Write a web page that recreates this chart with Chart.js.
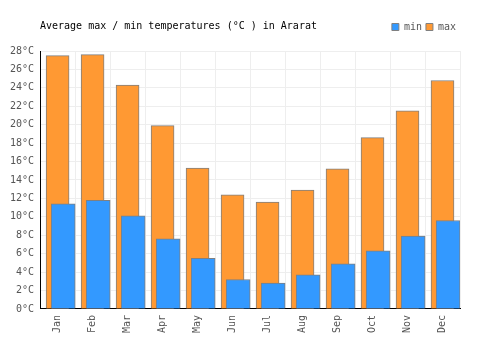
<!DOCTYPE html>
<html>
<head>
<meta charset="utf-8">
<script src="https://cdn.jsdelivr.net/npm/chart.js@4"></script>
<style>
  body { margin: 0; background: #fff; }
  #wrap { position: relative; width: 500px; height: 350px; }
  #title {
    position: absolute; left: 40px; top: 20px;
    font: 10px "DejaVu Sans Mono", monospace; color: #000; line-height: 12px;
  }
</style>
</head>
<body>
<div id="wrap">
  <div id="title">Average max / min temperatures (°C ) in Ararat</div>
  <canvas id="tempChart" width="500" height="350"></canvas>
</div>
<script>
const months = ['Jan', 'Feb', 'Mar', 'Apr', 'May', 'Jun', 'Jul', 'Aug', 'Sep', 'Oct', 'Nov', 'Dec'];
const minTemps = [11.4, 11.8, 10.1, 7.6, 5.5, 3.2, 2.8, 3.7, 4.9, 6.3, 7.9, 9.6];
const maxTemps = [27.5, 27.6, 24.3, 19.9, 15.3, 12.4, 11.6, 12.9, 15.2, 18.6, 21.5, 24.8];
const yMin = 0;
const yMax = 28;
const yStep = 2;

const monoFont = { family: '"DejaVu Sans Mono", monospace', size: 10 };

// leave some room between the legend row and the plot
const legendGap = {
    id: 'legendGap',
    beforeInit(chart) {
        const fit = chart.legend.fit;
        chart.legend.fit = function () {
            fit.bind(chart.legend)();
            this.height += 9;
        };
    }
};

document.addEventListener("DOMContentLoaded", function () {
    const ctx = document.getElementById('tempChart').getContext('2d');

    new Chart(ctx, {
        type: 'bar',
        data: {
            labels: months,
            datasets: [{
                label: 'min',
                // min bars sit on a hidden linear axis shifted a bit to the right
                data: minTemps.map((v, i) => ({ x: i, y: v })),
                xAxisID: 'x2',
                backgroundColor: '#3399ff',
                borderColor: '#808080',
                borderWidth: 1,
                barThickness: 24,
                grouped: false
            }, {
                label: 'max',
                data: maxTemps,
                xAxisID: 'x',
                backgroundColor: '#ff9933',
                borderColor: '#808080',
                borderWidth: 1,
                barThickness: 23,
                grouped: false
            }]
        },
        plugins: [legendGap],
        options: {
            responsive: false,
            animation: false,
            layout: { padding: { left: 4, right: 40, top: 18, bottom: 11 } },
            plugins: {
                tooltip: { enabled: false },
                title: { display: false },
                legend: {
                    position: 'top',
                    align: 'end',
                    labels: {
                        boxWidth: 7,
                        boxHeight: 7,
                        padding: 4,
                        color: '#555',
                        font: monoFont
                    }
                }
            },
            scales: {
                x: {
                    type: 'category',
                    offset: true,
                    grid: { color: '#eeeeee', drawTicks: false, offset: true },
                    border: { color: '#000', width: 1 },
                    ticks: {
                        color: '#555',
                        font: monoFont,
                        minRotation: 90,
                        maxRotation: 90,
                        padding: 6
                    }
                },
                x2: {
                    type: 'linear',
                    display: false,
                    offset: false,
                    min: -0.66,
                    max: 11.34
                },
                y: {
                    min: yMin,
                    max: yMax,
                    grid: { color: '#eeeeee', drawTicks: false },
                    border: { color: '#000', width: 1 },
                    ticks: {
                        stepSize: yStep,
                        color: '#555',
                        font: monoFont,
                        padding: 6,
                        callback: (value) => value + '°C'
                    }
                }
            }
        }
    });
});
</script>
</body>
</html>
